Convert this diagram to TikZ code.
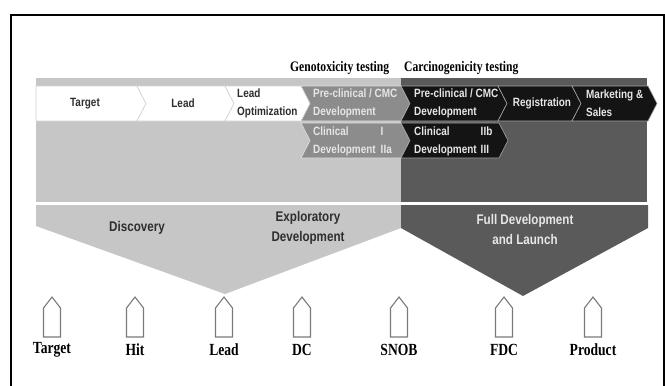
\documentclass[tikz,border=0pt]{standalone}
\usepackage{fontspec}
\setmainfont{Liberation Serif}
\newfontfamily\narrowsans[FakeStretch=0.83]{Liberation Sans}
\newfontfamily\narrowserif[FakeStretch=0.8]{Liberation Serif}
\usetikzlibrary{positioning}

\definecolor{lightband}{HTML}{C6C6C6}
\definecolor{darkband}{HTML}{5A5A5A}
\definecolor{midchev}{HTML}{8C8C8C}
\definecolor{blackchev}{HTML}{141414}
\definecolor{icongray}{HTML}{7A7A7A}
\definecolor{textdark}{HTML}{2E2E2E}
\definecolor{textlight}{HTML}{E6E6E6}

\begin{document}
\begin{tikzpicture}[
    x=1pt, y=-1pt,
    stagetxt/.style={font=\narrowsans\bfseries\fontsize{12}{18}\selectfont,
                     align=left, inner sep=0pt},
    darktxt/.style={stagetxt, text=textdark},
    lighttxt/.style={stagetxt, text=textlight},
    phasetxt/.style={font=\narrowsans\bfseries\fontsize{14}{20}\selectfont,
                     align=center, inner sep=0pt},
    testtxt/.style={font=\narrowserif\bfseries\fontsize{14.5}{16}\selectfont,
                    inner sep=0pt, anchor=west},
    milestone/.style={font=\narrowserif\bfseries\fontsize{17}{19}\selectfont,
                      inner sep=0pt},
    whitechev/.style={fill=white, draw=gray!35, line width=0.6pt},
    graychev/.style={fill=midchev, draw=white!75!midchev, line width=0.6pt},
    darkchev/.style={fill=blackchev, draw=gray!70, line width=0.6pt},
    icon/.style={draw=icongray, fill=white, line width=1.1pt, line join=miter}
  ]
    \useasboundingbox (0,0) rectangle (665,386);

    % frame
    \draw[line width=2pt] (11,386) -- (11,15) -- (664,15) -- (664,386);

    % bands
    \fill[lightband] (36,78) rectangle (401,202);
    \fill[darkband] (401,78) rectangle (647,202);
    \fill[lightband] (36,205) -- (401,205) -- (401,228) -- (225,294) -- (36,226) -- cycle;
    \fill[darkband] (401,205) -- (648,205) -- (648,228) -- (523,296) -- (401,228) -- cycle;

    % stage chevrons
    \draw[whitechev] (36,86) -- (137,86) -- (146,103.5) -- (137,121) -- (36,121) -- cycle;
    \foreach \l/\r/\t/\s in {137/225/86/whitechev, 225/301/86/whitechev,
        301/401/86/graychev, 401/498/86/darkchev, 498/572/86/darkchev,
        572/648/86/darkchev, 301/401/123/graychev, 401/499/123/darkchev}
      \draw[\s] (\l,\t) -- (\r,\t) -- (\r+9,\t+17.5) -- (\r,\t+35)
        -- (\l,\t+35) -- (\l+9,\t+17.5) -- cycle;

    \node[darktxt] (target) at (85,103.5) {Target};
    \node[darktxt] (lead) at (183,103.5) {Lead};
    \node[darktxt, anchor=west] (leadopt) at (237,103.5) {Lead\\Optimization};
    \node[lighttxt, anchor=west] (preclin) at (313,103.5) {Pre-clinical / CMC\\Development};
    \node[lighttxt, anchor=west] (preclinfull) at (414,103.5) {Pre-clinical / CMC\\Development};
    \node[lighttxt] (regist) at (542,103.5) {Registration};
    \node[lighttxt, anchor=west] (market) at (586,103.5) {Marketing \&\\Sales};
    \node[lighttxt, anchor=west] (clinearly) at (313,141)
      {\begin{tabular}{@{}l@{\hspace{5pt}}l@{}}Clinical & I\\Development & IIa\end{tabular}};
    \node[lighttxt, anchor=west] (clinlate) at (414,141)
      {\begin{tabular}{@{}l@{\hspace{4pt}}l@{}}Clinical & IIb\\Development & III\end{tabular}};

    % testing headers
    \node[testtxt] (geno) at (290,68) {Genotoxicity testing};
    \node[testtxt] (carcino) at (404,68) {Carcinogenicity testing};

    % phases
    \node[phasetxt, text=textdark] (discovery) at (137,228) {Discovery};
    \node[phasetxt, text=textdark] (explor) at (308,228) {Exploratory\\Development};
    \node[phasetxt, text=textlight] (fulldev) at (525,229) {Full Development\\and Launch};

    % milestones
    \foreach \x/\n/\txt in {52/target/Target, 135/hit/Hit, 224/lead/Lead, 302/dc/DC,
        399/snob/SNOB, 504/fdc/FDC, 593/product/Product} {
      \draw[icon] (\x,297) -- (\x+8.5,308) -- (\x+8.5,337) -- (\x-8.5,337)
        -- (\x-8.5,308) -- cycle;
      \node[milestone] (ms-\n) at (\x,350) {\txt};
    }
  \end{tikzpicture}
\end{document}
